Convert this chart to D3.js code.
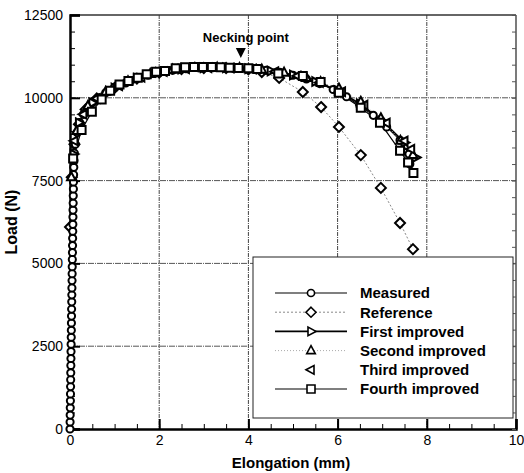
<!DOCTYPE html>
<html>
<head>
<meta charset="utf-8">
<script src="https://cdn.jsdelivr.net/npm/d3@7"></script>
<style>
  body { margin: 0; background: #fff; }
  svg { font-family: "Liberation Sans", Arial, sans-serif; }
</style>
</head>
<body>
<div id="chart"></div>
<script>
// data: [elongation (mm), load (N)]
const measured = [
  [0.000, 0], [0.002, 210], [0.004, 420], [0.006, 640], [0.009, 850], [0.011, 1060], [0.013, 1280],
  [0.015, 1490], [0.017, 1700], [0.019, 1920], [0.021, 2130], [0.023, 2340], [0.025, 2560],
  [0.028, 2770], [0.030, 2980], [0.032, 3200], [0.034, 3410], [0.036, 3620], [0.039, 3840],
  [0.041, 4050], [0.043, 4260], [0.046, 4480], [0.048, 4690], [0.050, 4900], [0.052, 5120],
  [0.055, 5330], [0.057, 5540], [0.059, 5760], [0.062, 5970], [0.064, 6180], [0.066, 6400],
  [0.068, 6610], [0.071, 6820], [0.073, 7040], [0.076, 7250], [0.078, 7460], [0.081, 7680],
  [0.085, 7900], [0.090, 8110], [0.098, 8330], [0.12, 8600], [0.16, 8950], [0.22, 9250],
  [0.30, 9500], [0.40, 9700], [0.50, 9850], [0.65, 10000], [0.80, 10150], [1.00, 10300],
  [1.25, 10450], [1.50, 10580], [1.75, 10680], [2.00, 10760], [2.30, 10830], [2.60, 10880],
  [2.90, 10900], [3.20, 10910], [3.50, 10900], [3.80, 10890], [4.10, 10870], [4.40, 10830],
  [4.70, 10770], [5.00, 10680], [5.30, 10570], [5.60, 10430], [5.90, 10250], [6.20, 10030],
  [6.50, 9760], [6.80, 9470], [7.10, 9120], [7.40, 8720], [7.60, 8300], [7.62, 8000]
];
const reference = [
  [0.00, 6100], [0.04, 7600], [0.10, 8600], [0.20, 9200], [0.35, 9650], [0.60, 9980],
  [1.00, 10300], [1.50, 10580], [2.00, 10760], [2.50, 10870], [3.00, 10900], [3.50, 10900],
  [4.00, 10860], [4.30, 10780], [4.69, 10600], [5.22, 10175], [5.63, 9720], [6.03, 9120],
  [6.52, 8270], [6.97, 7280], [7.40, 6220], [7.69, 5430]
];
const firstImproved = [
  [0.08, 8300], [0.20, 9250], [0.50, 9850], [1.00, 10300], [1.50, 10590], [2.00, 10770],
  [2.50, 10870], [3.00, 10910], [3.50, 10910], [4.00, 10880], [4.50, 10810], [5.00, 10690],
  [5.50, 10490], [6.00, 10220], [6.50, 9820], [7.00, 9300], [7.50, 8650], [7.75, 8200]
];
const secondImproved = [
  [0.03, 7600], [0.15, 9000], [0.40, 9750], [0.80, 10180], [1.30, 10500], [1.80, 10720],
  [2.30, 10850], [2.80, 10900], [3.30, 10910], [3.80, 10900], [4.30, 10850], [4.80, 10760],
  [5.30, 10600], [5.62, 10470], [6.03, 10280], [6.52, 9880], [6.97, 9380], [7.41, 8700],
  [7.69, 8270]
];
const thirdImproved = [
  [0.10, 8700], [0.30, 9500], [0.60, 9980], [1.10, 10360], [1.60, 10620], [2.10, 10790],
  [2.60, 10880], [3.10, 10910], [3.60, 10900], [4.10, 10870], [4.60, 10790], [5.10, 10660],
  [5.60, 10460], [6.10, 10180], [6.60, 9780], [7.10, 9240], [7.50, 8700], [7.65, 8450]
];
const fourthImproved = [
  [0.07, 8170], [0.26, 9030], [0.49, 9580], [0.71, 9950], [0.90, 10215], [1.11, 10405],
  [1.31, 10505], [1.52, 10605], [1.72, 10710], [1.93, 10790], [2.13, 10810], [2.37, 10890],
  [2.58, 10920], [2.78, 10930], [2.98, 10930], [3.18, 10930], [3.38, 10920], [3.58, 10910],
  [3.78, 10900], [4.00, 10890], [4.20, 10870], [4.67, 10730], [5.22, 10660], [5.62, 10480],
  [6.03, 10150], [6.52, 9700], [6.95, 9250], [7.40, 8400], [7.58, 8050], [7.70, 7730]
];
const neckingPoint = [3.83, 11200];

const xTicks = [0, 2, 4, 6, 8, 10];
const yTicks = [0, 2500, 5000, 7500, 10000, 12500];
const legendLabels = ["Measured", "Reference", "First improved", "Second improved", "Third improved", "Fourth improved"];

const W = 524, H = 473;
const margin = { top: 15, right: 8, bottom: 44, left: 70 },
  width = W - margin.left - margin.right,
  height = H - margin.top - margin.bottom;

const svg = d3.select("#chart").append("svg")
  .attr("width", W).attr("height", H);
const g = svg.append("g")
  .attr("transform", `translate(${margin.left},${margin.top})`);

const x = d3.scaleLinear().domain([0, 10]).range([0, width]);
const y = d3.scaleLinear().domain([0, 12500]).range([height, 0]);

// grid
g.append("g").selectAll("line").data(xTicks.slice(1, -1)).join("line")
  .attr("x1", d => x(d)).attr("x2", d => x(d)).attr("y1", 0).attr("y2", height)
  .attr("stroke", "#444").attr("stroke-width", 1).attr("stroke-dasharray", "4,1,1,1");
g.append("g").selectAll("line").data(yTicks.slice(1, -1)).join("line")
  .attr("y1", d => y(d)).attr("y2", d => y(d)).attr("x1", 0).attr("x2", width)
  .attr("stroke", "#555").attr("stroke-width", 1).attr("stroke-dasharray", "6,1,1,1");

// frame top / right
g.append("line").attr("x1", 0).attr("x2", width).attr("y1", 0).attr("y2", 0)
  .attr("stroke", "#333").attr("stroke-width", 1.3);
g.append("line").attr("x1", width).attr("x2", width).attr("y1", 0).attr("y2", height)
  .attr("stroke", "#333").attr("stroke-width", 1.3);

// axes with inner ticks
const xMinor = d3.range(0, 10.01, 0.5);
const yMinor = d3.range(0, 12501, 500);
g.append("g").attr("transform", `translate(0,${height})`)
  .call(d3.axisBottom(x).tickValues(xMinor).tickSize(-5).tickFormat(""))
  .call(a => a.select(".domain").remove());
g.append("g").attr("transform", `translate(0,${height})`)
  .call(d3.axisBottom(x).tickValues(xTicks).tickSize(-10).tickPadding(6).tickFormat(d3.format("d")))
  .call(a => a.select(".domain").attr("stroke-width", 2.5))
  .call(a => a.selectAll("line").attr("stroke-width", 2))
  .call(a => a.selectAll("text").attr("font-size", 14).attr("fill", "#000"));
g.append("g")
  .call(d3.axisLeft(y).tickValues(yMinor).tickSize(-5).tickFormat(""))
  .call(a => a.select(".domain").remove());
g.append("g")
  .call(d3.axisLeft(y).tickValues(yTicks).tickSize(-10).tickPadding(7).tickFormat(d3.format("d")))
  .call(a => a.select(".domain").attr("stroke-width", 2.5))
  .call(a => a.selectAll("line").attr("stroke-width", 2))
  .call(a => a.selectAll("text").attr("font-size", 14).attr("fill", "#000"));
// right side ticks
g.append("g").attr("transform", `translate(${width},0)`)
  .call(d3.axisRight(y).tickValues(yMinor).tickSize(-4).tickFormat(""))
  .call(a => a.select(".domain").remove())
  .call(a => a.selectAll("line").attr("stroke", "#555"));

// lines
const line = d3.line().x(d => x(d[0])).y(d => y(d[1]));
const series = [
  { data: reference, marker: "diamond", stroke: "#888", width: 1, dash: "2,2" },
  { data: measured, marker: "circle", stroke: "#000", width: 1.2, dash: null },
  { data: firstImproved, marker: "right", stroke: "#000", width: 1.8, dash: null },
  { data: secondImproved, marker: "up", stroke: "#aaa", width: 1, dash: "1,2" },
  { data: thirdImproved, marker: "left", stroke: "none", width: 0, dash: null },
  { data: fourthImproved, marker: "square", stroke: "#000", width: 1.2, dash: null }
];

series.forEach(s => {
  if (s.stroke === "none") return;
  g.append("path").datum(s.data)
    .attr("d", line)
    .attr("fill", "none")
    .attr("stroke", s.stroke)
    .attr("stroke-width", s.width)
    .attr("stroke-dasharray", s.dash);
});

function markerPath(type) {
  switch (type) {
    case "circle": return d3.symbol(d3.symbolCircle, 40)();
    case "square": return "M-4,-4H4V4H-4Z";
    case "diamond": return "M0,-5L5,0L0,5L-5,0Z";
    case "up": return "M0,-5L4.3,3L-4.3,3Z";
    case "right": return "M5,0L-3,-4.3L-3,4.3Z";
    case "left": return "M-5,0L3,-4.3L3,4.3Z";
  }
}

function drawMarkers(sel, type, pts) {
  sel.append("g").selectAll("path").data(pts).join("path")
    .attr("transform", d => `translate(${x(d[0])},${y(d[1])})`)
    .attr("d", markerPath(type))
    .attr("fill", "#fff")
    .attr("stroke", "#000")
    .attr("stroke-width", 2);
}
series.forEach(s => drawMarkers(g, s.marker, s.data));

// necking point
g.append("path")
  .attr("transform", `translate(${x(neckingPoint[0])},${y(neckingPoint[1])})`)
  .attr("d", "M0,0L-5,-10L5,-10Z")
  .attr("fill", "#000");
g.append("text")
  .attr("x", x(neckingPoint[0]) + 5).attr("y", y(neckingPoint[1]) - 16)
  .attr("text-anchor", "middle")
  .attr("font-size", 13).attr("font-weight", "bold")
  .text("Necking point");

// axis titles
svg.append("text")
  .attr("x", margin.left + width / 2 - 2).attr("y", 468)
  .attr("text-anchor", "middle")
  .attr("font-size", 15).attr("font-weight", "bold")
  .text("Elongation (mm)");
svg.append("text")
  .attr("transform", `translate(17,${222}) rotate(-90)`)
  .attr("text-anchor", "middle")
  .attr("font-size", 16).attr("font-weight", "bold")
  .text("Load (N)");

// legend
const lg = svg.append("g");
lg.append("rect")
  .attr("x", 253).attr("y", 257).attr("width", 260).attr("height", 161)
  .attr("fill", "#fff").attr("stroke", "#222").attr("stroke-width", 1);

legendLabels.forEach((label, i) => {
  const s = series[[1, 0, 2, 3, 4, 5][i]];
  const ly = 293 + i * 19.2;
  if (s.stroke !== "none") {
    lg.append("line")
      .attr("x1", 275).attr("x2", 347).attr("y1", ly).attr("y2", ly)
      .attr("stroke", s.stroke).attr("stroke-width", s.width)
      .attr("stroke-dasharray", s.dash);
  }
  lg.append("path")
    .attr("transform", `translate(311,${ly})`)
    .attr("d", markerPath(s.marker))
    .attr("fill", "#fff").attr("stroke", "#000").attr("stroke-width", 1.6);
  lg.append("text")
    .attr("x", 360).attr("y", ly).attr("dy", "0.36em")
    .attr("font-size", 15).attr("font-weight", "bold")
    .text(label);
});
</script>
</body>
</html>
